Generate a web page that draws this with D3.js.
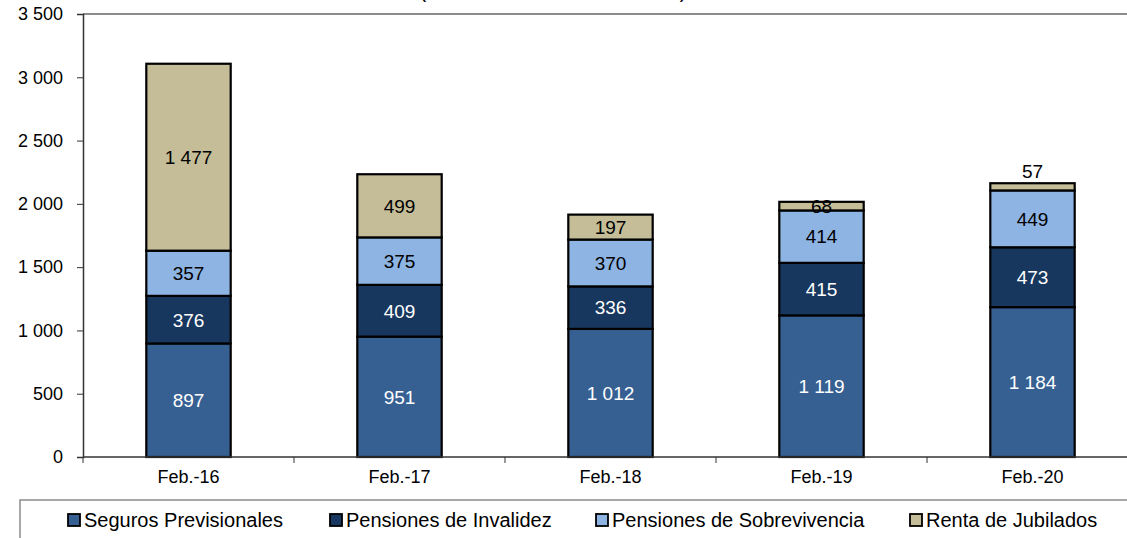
<!DOCTYPE html>
<html><head><meta charset="utf-8">
<script src="https://cdn.jsdelivr.net/npm/d3@7"></script>
<style>body{margin:0;background:#fff;}svg{display:block;font-family:"Liberation Sans",Arial,sans-serif;}</style>
</head><body>
<svg id="c" width="1127" height="538"></svg>
<script>
const categories = ["Feb.-16","Feb.-17","Feb.-18","Feb.-19","Feb.-20"];
const seriesNames = ["Seguros Previsionales","Pensiones de Invalidez","Pensiones de Sobrevivencia","Renta de Jubilados"];
const seguros = [897, 951, 1012, 1119, 1184];
const invalidez = [376, 409, 336, 415, 473];
const sobrevivencia = [357, 375, 370, 414, 449];
const renta = [1477, 499, 197, 68, 57];
const yTicks = [0, 500, 1000, 1500, 2000, 2500, 3000, 3500];
const colors = ["#376092", "#17375E", "#8EB4E3", "#C4BD97"];
const labelColors = ["#fff", "#fff", "#000", "#000"];

(function(){
const svg = d3.select("#c");
const pL = 83, pT = 14, pB = 457, pR = 1138;
const x = d3.scaleBand().domain(categories).range([pL, pR]).paddingInner(0).paddingOuter(0);
const y = d3.scaleLinear().domain([0, 3500]).range([pB, pT]);
const fmt = v => d3.format(",")(v).replace(/,/g, " ");

// title remnant (cut off at top in the reference)
svg.append("text").attr("x", 553).attr("y", -2).attr("text-anchor","middle")
  .attr("font-size", 20).text("(En millones de nuevos soles)");

// top border line
svg.append("line").attr("x1", pL).attr("x2", 1127).attr("y1", pT).attr("y2", pT)
  .attr("stroke", "#8c8c8c").attr("stroke-width", 2);

const rows = categories.map((c, i) => ({cat: c, s0: seguros[i], s1: invalidez[i], s2: sobrevivencia[i], s3: renta[i]}));
const stack = d3.stack().keys(["s0","s1","s2","s3"])(rows);
const bw = x.bandwidth() * 0.4;

stack.forEach((layer, li) => {
  svg.append("g").selectAll("rect").data(layer).join("rect")
    .attr("x", d => x(d.data.cat) + (x.bandwidth() - bw) / 2)
    .attr("y", d => y(d[1]))
    .attr("width", bw)
    .attr("height", d => y(d[0]) - y(d[1]))
    .attr("fill", colors[li])
    .attr("stroke", "#000").attr("stroke-width", 2.2);
});
stack.forEach((layer, li) => {
  svg.append("g").selectAll("text").data(layer).join("text")
    .attr("x", d => x(d.data.cat) + x.bandwidth() / 2)
    .attr("y", d => {
      const v = d[1] - d[0];
      if (li === 3 && v < 60) return y(d[1]) - 12;
      return (y(d[0]) + y(d[1])) / 2;
    })
    .attr("dy", "0.36em")
    .attr("text-anchor", "middle")
    .attr("font-size", 19)
    .attr("fill", labelColors[li])
    .text(d => fmt(d[1] - d[0]));
});

// y axis
const ya = svg.append("g").attr("transform", `translate(${pL},0)`)
  .call(d3.axisLeft(y).tickValues(yTicks).tickSize(6).tickPadding(14).tickFormat(fmt));
ya.select(".domain").attr("stroke", "#333").attr("stroke-width", 1.5);
ya.selectAll(".tick line").attr("stroke", "#333");
ya.selectAll(".tick text").attr("font-size", 18).attr("fill", "#000").attr("font-family", "Liberation Sans, Arial, sans-serif");

// x axis
const xa = svg.append("g").attr("transform", `translate(0,${pB})`);
xa.append("line").attr("x1", pL).attr("x2", 1127).attr("y1", 0).attr("y2", 0).attr("stroke", "#333").attr("stroke-width", 1.5);
xa.selectAll("line.t").data(categories).join("line").attr("class","t")
  .attr("x1", d => x(d)).attr("x2", d => x(d)).attr("y1", 0).attr("y2", 6).attr("stroke", "#333");
xa.selectAll("text").data(categories).join("text")
  .attr("x", d => x(d) + x.bandwidth() / 2).attr("y", 26)
  .attr("text-anchor", "middle").attr("font-size", 18).text(d => d);

// legend
svg.append("rect").attr("x", 20).attr("y", 500).attr("width", 1130).attr("height", 60)
  .attr("fill", "#fff").attr("stroke", "#8c8c8c").attr("stroke-width", 1.5);
const legX = [68, 330, 596, 910];
seriesNames.forEach((n, i) => {
  svg.append("rect").attr("x", legX[i]).attr("y", 514).attr("width", 12).attr("height", 12)
    .attr("fill", colors[i]).attr("stroke", "#000").attr("stroke-width", 1.8);
  svg.append("text").attr("x", legX[i] + 16).attr("y", 527).attr("font-size", 20).text(n);
});
})();
</script>
</body></html>
